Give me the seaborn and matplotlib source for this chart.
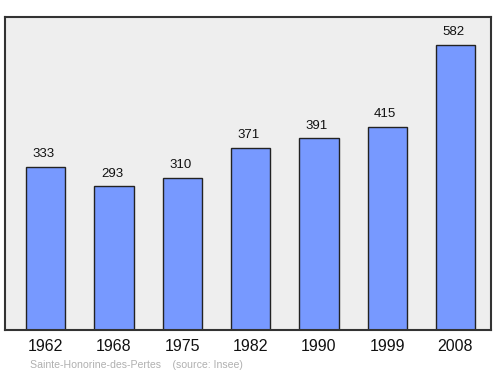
import matplotlib
matplotlib.use("Agg")
import matplotlib.pyplot as plt
import seaborn as sns
import pandas as pd

years = ["1962", "1968", "1975", "1982", "1990", "1999", "2008"]
population = [333, 293, 310, 371, 391, 415, 582]
caption = "Sainte-Honorine-des-Pertes    (source: Insee)"

sns.set_style("white")
plt.rcParams['font.family'] = ['Liberation Sans', 'DejaVu Sans']

df = pd.DataFrame({"year": years, "pop": population})

fig = plt.figure(figsize=(5.0, 3.74), dpi=100)
ax = fig.add_axes([0.01, 0.1176, 0.972, 0.837])
ax.set_facecolor("#eeeeee")

sns.barplot(data=df, x="year", y="pop", color="#7799ff", saturation=1,
            width=0.575, edgecolor="#222222", linewidth=1.0, ax=ax)

for i, v in enumerate(population):
    ax.text(i - 0.03, v + 14, str(v), ha="center", va="bottom", fontsize=9.5, color="#111111")

ax.set_xlim(-0.595, 6.52)
ax.set_ylim(0, 639)
ax.set_yticks([])
ax.set_xlabel("")
ax.set_ylabel("")
ax.tick_params(axis="x", length=0, labelsize=11.5, pad=6.5, colors="#111111")
for s in ax.spines.values():
    s.set_color("#333333")
    s.set_linewidth(1.5)

fig.text(0.06, 0.024, caption, fontsize=7.6, color="#b0b0b0", ha="left", va="center")

fig.savefig("out.png", dpi=100)
